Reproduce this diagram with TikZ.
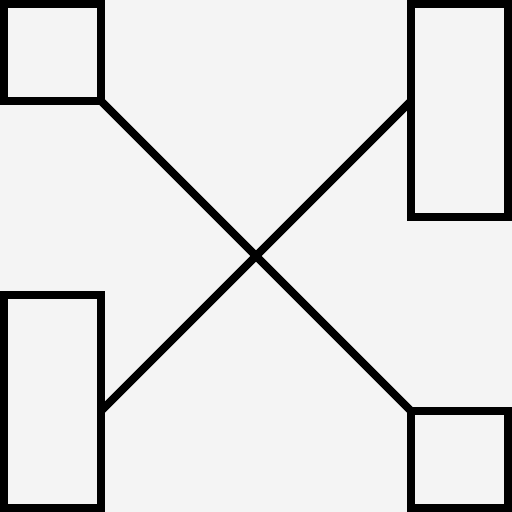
\documentclass[tikz,border=0pt]{standalone}
\usepackage{tikz}
\usetikzlibrary{positioning}
\definecolor{bggray}{HTML}{F4F4F4}

\begin{document}
\begin{tikzpicture}[x=0.01cm, y=-0.01cm, line width=0.08cm]
			\tikzstyle{box}=[draw=black, line width=0.08cm, inner sep=0pt, outer sep=0pt, minimum width=0.97cm]
			\tikzstyle{link}=[draw=black, line width=0.08cm]
			
			\fill[bggray] (0,0) rectangle (512,512);
			\useasboundingbox (0,0) rectangle (512,512);
			
			\node[box, minimum height=0.97cm] (TL) at (52.5,52.5) {};
			\node[box, minimum height=2.13cm] (TR) at (459.5,110.5) {};
			\node[box, minimum height=2.13cm] (BL) at (52.5,401.5) {};
			\node[box, minimum height=0.97cm] (BR) at (459.5,459.5) {};
			
			\path[link]
			(TL.south east) -- (BR.north west)
			(BL.east |- 0,411) -- (TR.west |- 0,101);
		\end{tikzpicture}
\end{document}
